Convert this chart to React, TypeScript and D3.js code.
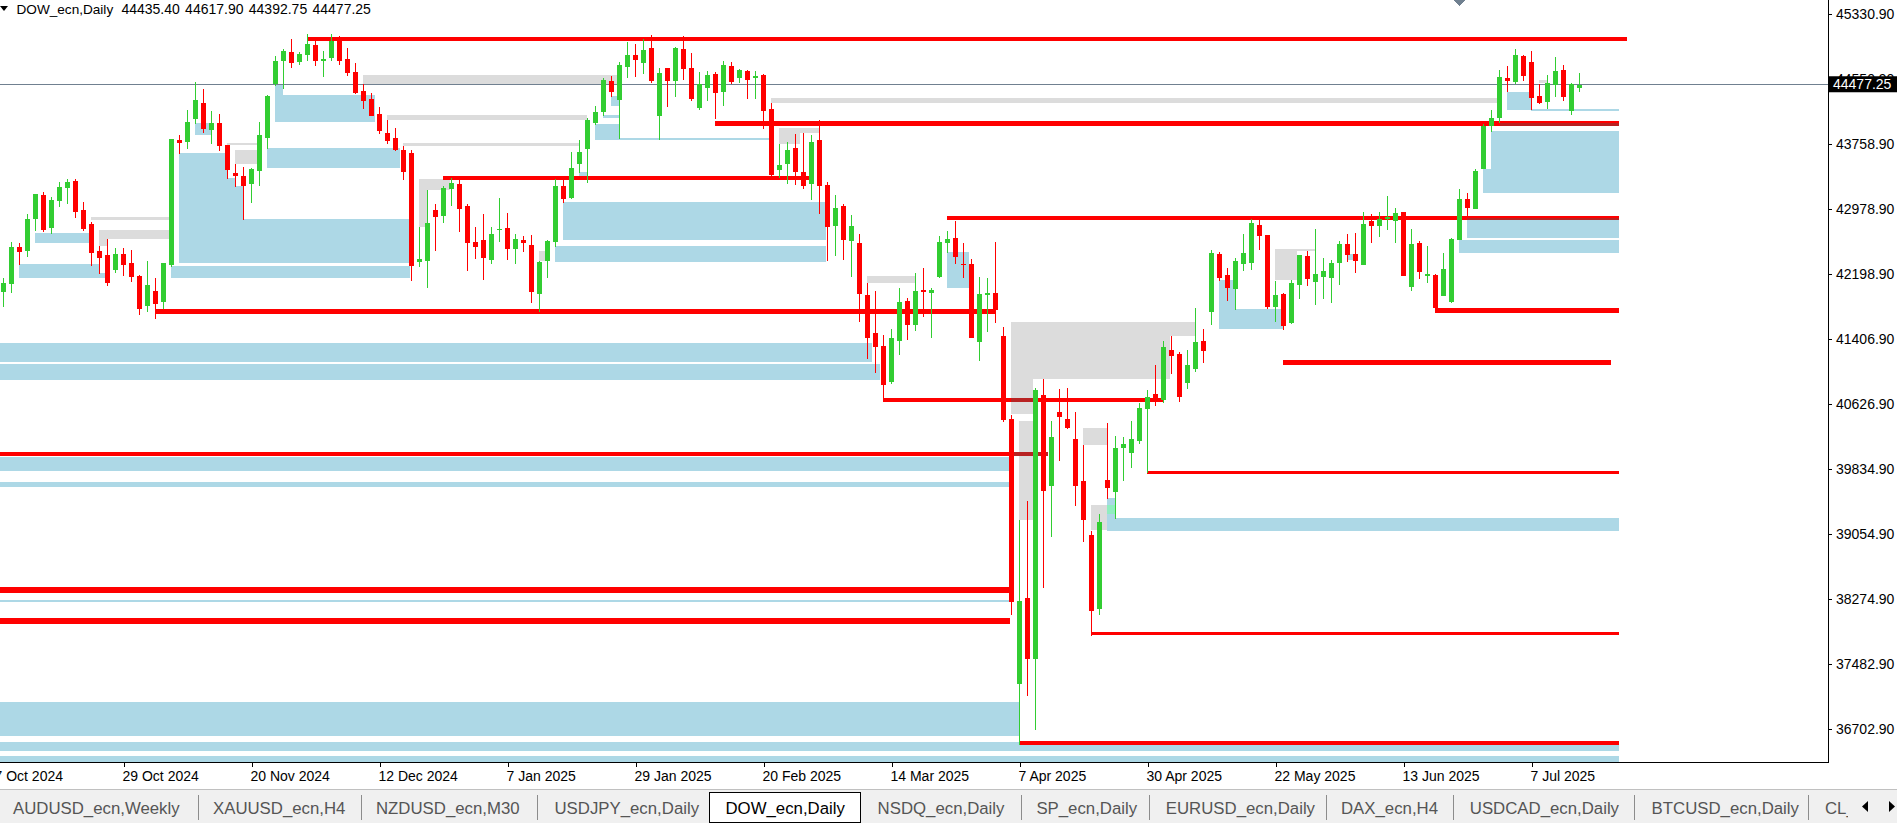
import React from 'react';
import * as d3 from 'd3';

// ---------- candle data (Daily DOW_ecn, bar 0 = 8 Oct 2024) ----------
const OPEN = [41980,42073,42520,42471,42858,43147,42749,43075,43232,43316,42966,42797,42471,42423,42242,42435,42326,42170,41808,41989,41856,42302,43811,43786,44064,44257,43931,44015,43750,43413,43376,43280,43437,43835,44486,44764,44873,44752,44836,44957,44764,44800,45017,44788,44631,44402,44305,44124,43895,43835,43690,43654,42338,42350,42966,42894,43220,43280,43015,42580,42604,42363,42725,42749,42495,42604,42544,41952,42350,42580,43256,43111,43521,43702,44015,44148,44523,44293,44692,44836,44740,44921,44100,44679,44523,44909,44679,44197,44438,44607,44390,44704,44559,44643,44559,44595,44184,43449,43521,43714,43425,43280,43811,43268,42773,43015,42596,42568,41940,41482,41325,40890,41385,41868,41578,42001,41964,42158,42568,42628,42314,42314,41373,41946,41964,41446,40444,37252,38284,37542,40734,39639,40528,40444,40203,39696,39044,38151,39708,39568,40094,40034,40178,40569,40746,40673,41277,41228,40878,41047,41385,41735,42435,42182,42013,42314,42326,42785,42664,41795,41952,41603,42061,42411,42097,42158,42145,42326,42556,42435,42302,42833,42773,42858,42833,42942,42037,42568,42170,42182,41928,41856,42604,43099,42978,43461,43979,44076,44559,44511,44824,44752,44342,44269,44474,44655,44160,44435.40];
const HIGH = [42141,42580,42564,42918,43159,43180,43123,43304,43340,43340,43063,42821,42532,42616,42508,42508,42483,42182,42350,42145,42326,43823,43871,44172,44511,44426,44160,44124,43750,43521,43485,43473,44028,44354,44824,44909,45029,44873,45090,45005,44885,45090,45066,44921,44740,44486,44378,44209,44052,43955,43738,43690,42761,43207,43039,43256,43352,43328,43039,42761,42918,42761,43111,42930,42677,42652,42664,42350,42604,43340,43328,43666,43811,44076,44221,44559,44583,44752,44993,44969,45029,45078,44679,44679,44933,45066,44860,44631,44643,44631,44764,44752,44667,44655,44643,44607,44257,43762,43786,43883,43895,43871,44052,43304,43147,43039,42906,42677,42085,41989,41458,41530,42025,41904,42206,42266,42025,42652,42713,42833,42568,42375,42158,42145,42580,41554,40492,39225,39454,40818,40927,40420,40806,40818,40528,40130,39092,39298,40396,40239,40227,40420,40637,40788,41096,41385,41446,41252,41277,41783,41530,42483,42459,42266,42387,42677,42858,42845,42664,42109,41964,42121,42423,42471,42737,42387,42363,42592,42677,42689,42942,42918,42942,43135,42990,42942,42737,42592,42532,42194,42447,42628,43220,43171,43461,44003,44172,44655,44704,44909,44836,44885,44486,44595,44812,44716,44498,44617.90];
const LOW = [41799,41968,42302,42402,42713,42701,42677,43003,43039,42870,42713,42290,42194,42049,42206,42170,42097,41699,41735,41651,41771,42278,43642,43702,44003,43895,43762,43678,43340,43244,42845,43051,43256,43702,44462,44426,44679,44716,44764,44704,44571,44764,44716,44583,44366,44184,44100,43883,43762,43678,43328,42109,42278,42025,42471,42809,43015,42701,42230,42375,42121,42314,42580,42363,42314,42459,41844,41735,42145,42520,43051,43099,43413,43292,43991,44100,44330,43823,44559,44571,44607,44498,43811,44209,44330,44535,44281,44172,44281,44064,44221,44486,44498,44305,44305,43943,43364,43352,43280,43268,43220,43087,42918,42350,42411,42363,42158,41615,41174,40999,40654,40872,41216,41397,41506,41675,41421,42145,42447,42314,42151,41421,41149,41494,41603,40408,38079,36510,37101,36695,38409,39020,39937,40323,39394,38960,37831,38079,39479,39241,39696,39853,40142,39792,40601,40642,40987,40649,40806,41015,41123,41578,42109,41868,41759,42230,42242,42483,41771,41615,41518,41590,41892,42049,41820,41892,41844,42061,42338,42206,42302,42568,42640,42725,42568,42170,41989,42133,42085,41783,41928,41844,42604,42894,42978,43461,43907,44015,44390,44486,44523,44172,44245,44184,44330,44281,44112,44392.75];
const CLOSE = [42081,42520,42459,42858,43159,42725,43087,43244,43304,42942,42737,42447,42387,42085,42435,42302,42158,41771,42061,41832,42326,43823,43774,44028,44293,43943,44015,43738,43449,43376,43256,43461,43871,44342,44764,44885,44740,44848,44969,44764,44788,45005,44764,44619,44378,44281,44100,43919,43798,43690,43425,42290,42375,42809,42882,43232,43292,42978,42568,42520,42387,42677,42737,42495,42616,42568,41976,42338,42592,43256,43099,43473,43666,44052,44148,44535,44390,44716,44836,44776,44897,44523,44619,44523,44921,44667,44305,44486,44595,44378,44716,44511,44655,44535,44583,44160,43388,43509,43690,43425,43256,43786,43256,42761,42990,42604,42773,41952,41421,41313,40859,41421,41856,41578,41989,41976,42001,42580,42616,42399,42302,41421,41952,41964,41759,40432,38230,38248,37542,40794,39580,40227,40474,40335,39639,39225,38133,39201,39612,40094,40142,40203,40577,40709,40661,41313,41204,40709,41096,41373,41264,42447,42145,42025,42350,42447,42809,42652,41795,41940,41566,42085,42423,42133,42194,42230,42326,42556,42423,42350,42797,42773,42858,42882,42930,42170,42556,42218,42194,41783,42254,42616,43099,42990,43437,43979,44076,44571,44523,44836,44583,44317,44257,44498,44643,44330,44486,44477.25];

// ---------- axes ----------
const PRICE_TICKS = [45330.9, 44550.9, 43758.9, 42978.9, 42198.9, 41406.9, 40626.9, 39834.9, 39054.9, 38274.9, 37482.9, 36702.9];
const DATE_TICK_BARS = [-1, 15, 31, 47, 63, 79, 95, 111, 127, 143, 159, 175, 191];
const DATE_TICK_LABELS = ['7 Oct 2024', '29 Oct 2024', '20 Nov 2024', '12 Dec 2024', '7 Jan 2025', '29 Jan 2025', '20 Feb 2025', '14 Mar 2025', '7 Apr 2025', '30 Apr 2025', '22 May 2025', '13 Jun 2025', '7 Jul 2025'];
const LAST_PRICE = 44477.25;
const TITLE_SYMBOL = 'DOW_ecn,Daily';
const TITLE_OHLC = ['44435.40', '44617.90', '44392.75', '44477.25'];

// ---------- zones: [fromBar, toBar, topPrice, bottomPrice] ----------
const GRAY_ZONES = [
  [44.94, 76.69, 44595, 44486], [47.94, 72.94, 44112, 44052], [49.94, 71.94, 43774, 43738],
  [27.94, 31.69, 43774, 43750], [28.94, 31.69, 43690, 43521], [10.94, 20.69, 42882, 42845],
  [11.94, 20.69, 42725, 42616], [11.94, 12.94, 42616, 42532], [51.94, 55.81, 43340, 43207],
  [51.94, 52.94, 43207, 42761], [66.94, 68.31, 42471, 42350], [95.94, 186.69, 44317, 44257],
  [96.94, 101.94, 43955, 43895], [96.94, 99.56, 43895, 43762], [107.94, 113.94, 42170, 42089],
  [125.94, 148.94, 41615, 41446], [125.94, 145.81, 41446, 40927], [125.94, 128.69, 40927, 40504],
  [126.94, 128.69, 40420, 39225], [134.94, 137.94, 40335, 40130], [135.94, 137.94, 39406, 39104],
  [158.94, 163.94, 42495, 42471], [158.94, 161.69, 42495, 42121], [191.94, 192.94, 44535, 44498],
];
const BLUE_ZONES = [
  [1.94, 11.94, 42314, 42145], [11.94, 12.94, 42206, 42145], [3.94, 10.69, 42689, 42568],
  [21.94, 27.94, 43654, 42326], [27.94, 28.94, 43352, 42326], [28.94, 29.94, 43256, 42326],
  [29.94, 50.81, 42858, 42326], [20.94, 50.81, 42290, 42145], [23.94, 25.94, 44015, 43871],
  [33.94, 46.44, 44354, 44028], [33.94, 34.94, 44474, 44354], [32.94, 49.56, 43714, 43473],
  [75.94, 76.94, 44342, 44221], [74.94, 76.94, 44112, 44076], [73.94, 76.94, 44003, 43811],
  [76.94, 95.69, 43835, 43811], [71.94, 72.94, 43425, 43364], [69.94, 102.81, 43063, 42604],
  [68.94, 102.81, 42532, 42338], [117.94, 120.69, 42459, 42030], [-1.5, 108.56, 41361, 41132],
  [-1.5, 109.56, 41108, 40915], [-1.5, 125.69, 39991, 39817], [-1.5, 125.69, 39684, 39623],
  [-1.5, 125.81, 38260, 38230], [-1.5, 126.94, 37029, 36623], [-1.5, 201.94, 36546, 36438],
  [-1.5, 201.94, 36377, 36305], [137.94, 201.94, 39249, 39092], [137.94, 138.94, 39491, 39249],
  [151.94, 154.06, 42121, 41530], [154.06, 159.94, 41771, 41530], [167.94, 168.94, 42435, 42363],
  [181.94, 201.94, 42604, 42447], [182.94, 201.94, 42845, 42628], [185.94, 201.94, 43919, 43171],
  [184.94, 185.94, 43461, 43171], [187.94, 190.94, 44390, 44172], [190.94, 201.94, 44184, 44166],
];
const MINT_ZONES = [[137.94, 138.94, 39406, 39298]];
// red levels: [fromBar, toBar, price]
const RED_LEVELS = [
  [38, 202.94, 45029], [88.94, 201.94, 44012], [54.94, 100.81, 43356], [117.94, 201.94, 42873],
  [18.94, 123.94, 41740], [178.94, 201.94, 41750], [159.94, 200.94, 41128], [109.94, 144.94, 40673],
  [-1.5, 130.6, 40025], [142.94, 201.94, 39801], [-1.5, 125.94, 38383], [-1.5, 125.81, 38008],
  [135.94, 201.94, 37858], [126.94, 201.94, 36535],
];
const RED_WIDTHS = [4.3, 4.6, 4, 4, 5, 4.6, 4.6, 4, 4, 2.8, 5.8, 5.6, 2.8, 4.2];
const DARK_OVERLAPS = [
  [187.06, 201.94, 44012, 43983], [182.94, 201.94, 42873, 42849],
  [125.94, 130.6, 40049, 40001], [125.94, 128.69, 40697, 40649],
];

// ---------- tabs ----------
const TAB_LABELS = ['AUDUSD_ecn,Weekly', 'XAUUSD_ecn,H4', 'NZDUSD_ecn,M30', 'USDJPY_ecn,Daily', 'DOW_ecn,Daily', 'NSDQ_ecn,Daily', 'SP_ecn,Daily', 'EURUSD_ecn,Daily', 'DAX_ecn,H4', 'USDCAD_ecn,Daily', 'BTCUSD_ecn,Daily', 'CL_ecn,Daily'];
const ACTIVE_TAB = 4;

const W = 1897, H = 823;
const PLOT_R = 1828, PLOT_B = 762;
const FONT = "'Liberation Sans', Arial, sans-serif";
const BULL = '#32CD32', BEAR = '#FF0000';
const TAB_X = [13, 213, 376, 554.5, 725.5, 877.6, 1036.4, 1165.8, 1341, 1469.8, 1651.6, 1825];
const TAB_SEPS = [198, 361, 537, 1021, 1149, 1326, 1453, 1634, 1808];

export default function App() {
  const n = OPEN.length;
  const x = d3.scaleLinear().domain([0, n - 1]).range([3.5, 3.5 + 8 * (n - 1)]);
  const y = d3.scaleLinear().domain([36305, 45500]).range([PLOT_B, 0]);

  const zoneRects = (zones: number[][], fill: string, key: string) =>
    zones.map((z, i) => (
      <rect key={key + i} x={x(z[0])} y={y(z[2])} width={x(z[1]) - x(z[0])} height={y(z[3]) - y(z[2])} fill={fill} />
    ));

  const lastY = y(LAST_PRICE);

  return (
    <svg width={W} height={H} style={{ position: 'absolute', left: 0, top: 0, background: '#fff' }} fontFamily={FONT}>
      <defs>
        <clipPath id="plot"><rect x={0} y={0} width={PLOT_R} height={PLOT_B} /></clipPath>
        <clipPath id="tabs"><rect x={0} y={780} width={1848} height={43} /></clipPath>
      </defs>
      <rect x={0} y={0} width={W} height={H} fill="#fff" />
      <g clipPath="url(#plot)" shapeRendering="crispEdges">
        {zoneRects(BLUE_ZONES, '#ADD8E6', 'b')}
        {zoneRects(GRAY_ZONES, '#DCDCDC', 'g')}
        {zoneRects(MINT_ZONES, '#90EEC0', 'm')}
        {RED_LEVELS.map((l, i) => (
          <rect key={'r' + i} x={x(l[0])} y={y(l[2]) - RED_WIDTHS[i] / 2} width={x(l[1]) - x(l[0])} height={RED_WIDTHS[i]} fill="#FF0000" />
        ))}
        {zoneRects(DARK_OVERLAPS, '#B82222', 'd')}
        <rect x={0} y={Math.floor(lastY)} width={PLOT_R} height={1} fill="#708090" />
        {OPEN.map((o, i) => {
          const c = CLOSE[i], h = HIGH[i], l = LOW[i];
          const col = c >= o ? BULL : BEAR;
          const cx = x(i);
          const yt = y(Math.max(o, c)), yb = y(Math.min(o, c));
          return (
            <g key={'c' + i} fill={col}>
              <rect x={cx - 0.5} y={y(h)} width={1} height={Math.max(1, y(l) - y(h))} />
              <rect x={cx - 2.5} y={yt} width={5} height={Math.max(1, yb - yt)} />
            </g>
          );
        })}
        <path d="M1453,0 L1465,0 L1459,6 Z" fill="#708090" />
      </g>

      {/* title */}
      <path d="M0,6 L8,6 L4,11 Z" fill="#000" />
      <text x={16.5} y={14} fontSize={13.6} fill="#000">{TITLE_SYMBOL}</text>
      {TITLE_OHLC.map((t, i) => (
        <text key={'t' + i} x={121.4 + i * 63.7} y={14} fontSize={14} fill="#000">{t}</text>
      ))}

      {/* price axis */}
      <g shapeRendering="crispEdges">
        <rect x={PLOT_R} y={0} width={1} height={PLOT_B + 1} fill="#000" />
        <rect x={0} y={PLOT_B} width={PLOT_R + 1} height={1} fill="#000" />
        {PRICE_TICKS.map((p, i) => (
          <rect key={'pt' + i} x={PLOT_R} y={Math.round(y(p))} width={4} height={1} fill="#000" />
        ))}
        {DATE_TICK_BARS.map((b, i) => (
          <rect key={'dt' + i} x={Math.round(x(b))} y={PLOT_B} width={1} height={5} fill="#000" />
        ))}
      </g>
      {PRICE_TICKS.map((p, i) => (
        <text key={'pl' + i} x={1836} y={y(p) + 5} fontSize={14} fill="#000">{p.toFixed(2)}</text>
      ))}
      <rect x={1829} y={lastY - 8.5} width={68} height={16} fill="#000" />
      <text x={1833} y={lastY + 4.7} fontSize={14} fill="#fff">{LAST_PRICE.toFixed(2)}</text>
      {DATE_TICK_BARS.map((b, i) => (
        <text key={'dl' + i} x={x(b) - 1} y={781} fontSize={14} fill="#000">{DATE_TICK_LABELS[i]}</text>
      ))}

      {/* tab bar */}
      <rect x={0} y={789} width={W} height={34} fill="#F0F0F0" />
      <rect x={0} y={789} width={W} height={1} fill="#C0C0C0" shapeRendering="crispEdges" />
      <rect x={709.5} y={792.5} width={151} height={30} fill="#fff" stroke="#000" strokeWidth={1} shapeRendering="crispEdges" />
      {TAB_SEPS.map((s, i) => (
        <rect key={'s' + i} x={s} y={795} width={1} height={25} fill="#8C8C8C" shapeRendering="crispEdges" />
      ))}
      <g clipPath="url(#tabs)">
        {TAB_LABELS.map((t, i) => (
          <text key={'tab' + i} x={TAB_X[i]} y={813.5} fontSize={16.8} fill={i === ACTIVE_TAB ? '#000' : '#555'}>{t}</text>
        ))}
      </g>
      <path d="M1868,801 L1862,806.5 L1868,812 Z" fill="#000" />
      <path d="M1889,801 L1895,806.5 L1889,812 Z" fill="#000" />
    </svg>
  );
}
